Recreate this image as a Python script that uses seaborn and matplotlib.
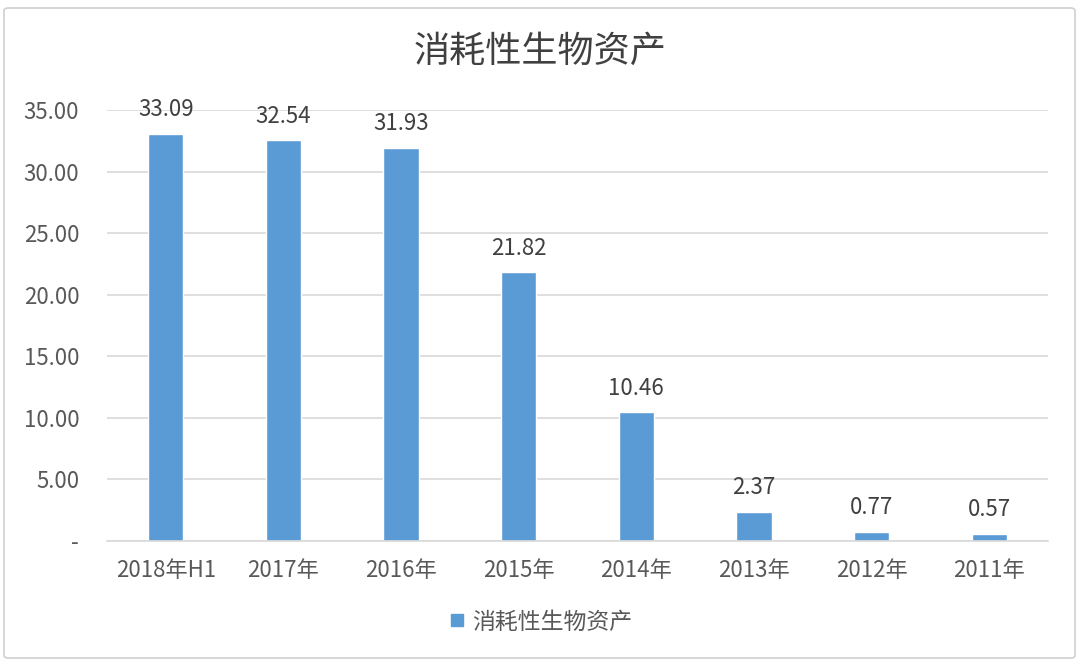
import matplotlib
matplotlib.use("Agg")
import matplotlib.pyplot as plt
import seaborn as sns
import pandas as pd
from matplotlib.patches import FancyBboxPatch
from matplotlib.lines import Line2D

categories = ["2018年H1", "2017年", "2016年", "2015年", "2014年", "2013年", "2012年", "2011年"]
values = [33.09, 32.54, 31.93, 21.82, 10.46, 2.37, 0.77, 0.57]
series_name = "消耗性生物资产"
yticks = [0, 5, 10, 15, 20, 25, 30, 35]
ytick_labels = ["-", "5.00", "10.00", "15.00", "20.00", "25.00", "30.00", "35.00"]

sns.set_theme(style="white")
plt.rcParams['font.family'] = ['Noto Sans CJK SC', 'DejaVu Sans']
plt.rcParams['font.weight'] = 'light'

W, H = 1080, 672
fig = plt.figure(figsize=(W/100, H/100), dpi=100)
fig.patch.set_facecolor("white")

# outer border
border = FancyBboxPatch((4/W, 1-658/H), (1075-4)/W, (658-8)/H,
                        boxstyle="round,pad=0,rounding_size=0.004",
                        transform=fig.transFigure, fill=False,
                        edgecolor="#D0D0D0", linewidth=1.2)
fig.patches.append(border)

ax = fig.add_axes([107/W, 1-541/H, (1048-107)/W, (541-110)/H])
df = pd.DataFrame({"cat": categories, "val": values})
bar_color = "#5B9BD5"
sns.barplot(data=df, x="cat", y="val", color=bar_color, width=0.30,
            saturation=1, ax=ax)

ax.set_ylim(0, 35)
ax.set_xlim(-0.5, len(categories) - 0.5)
ax.set_yticks(yticks)
ax.set_yticklabels(ytick_labels)
ax.yaxis.grid(True, color="#D9D9D9", linewidth=1.2)
ax.set_axisbelow(True)
for s in ["top", "right", "left"]:
    ax.spines[s].set_visible(False)
ax.spines["bottom"].set_color("#D9D9D9")
ax.spines["bottom"].set_linewidth(1.2)
ax.tick_params(axis="both", length=0, labelsize=16, colors="#595959")
ax.tick_params(axis="x", pad=13)
ax.tick_params(axis="y", pad=20)
ax.set_xlabel("")
ax.set_ylabel("")

for i, v in enumerate(values):
    ax.annotate(f"{v:.2f}", (i, v), xytext=(0, 9), textcoords="offset points",
                ha="center", va="bottom", fontsize=16, color="#404040")

fig.text(0.5, 1-52/H, series_name, ha="center", va="center",
         fontsize=26, color="#404040")

handle = Line2D([], [], marker="s", linestyle="none", markersize=8,
                markerfacecolor=bar_color, markeredgecolor=bar_color)
fig.legend([handle], [series_name], loc="center", bbox_to_anchor=(0.5, 1-622/H),
           frameon=False, fontsize=16.5, labelcolor="#595959",
           handlelength=0.8, handletextpad=0.3)

fig.savefig("out.png", dpi=100, facecolor="white")
